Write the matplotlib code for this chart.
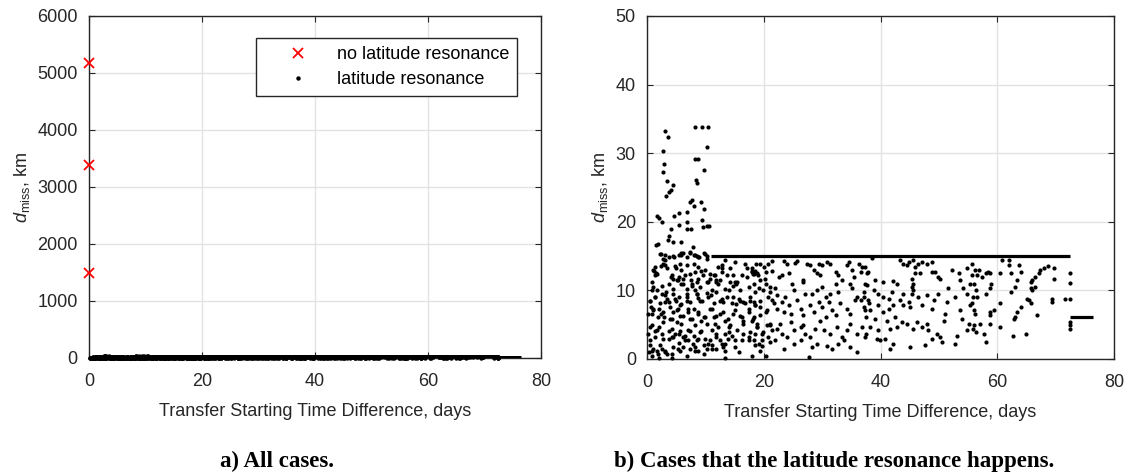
import matplotlib
matplotlib.use('Agg')
import matplotlib.pyplot as plt

plt.rcParams['font.family'] = ['Liberation Sans', 'DejaVu Sans']
plt.rcParams['mathtext.fontset'] = 'custom'
plt.rcParams['mathtext.rm'] = 'Liberation Sans'
plt.rcParams['mathtext.it'] = 'Liberation Sans:italic'

# cases without latitude resonance (all at zero start offset)
nores_t = [0.0, 0.0, 0.0]
nores_d = [5170, 3380, 1490]

# latitude resonance cases, (start offset in days, miss distance in km)
early = [
    (3.0, 33.3), (3.6, 32.3), (8.3, 33.8), (9.4, 33.8), (10.5, 33.8), (2.8, 30.3),
    (10.3, 30.9), (8.3, 29.1), (8.8, 29.1), (2.9, 28.4), (2.7, 27.3), (9.8, 27.5),
    (3.4, 25.9), (3.3, 23.8), (4.4, 25.4), (4.1, 24.6), (3.8, 24.4), (8.4, 26.1),
    (8.5, 25.7), (7.7, 23.2), (8.0, 22.3), (7.4, 22.9), (9.2, 22.9), (9.7, 21.8),
    (1.7, 20.9), (2.0, 20.6), (2.5, 19.9), (4.7, 20.8), (5.5, 21.3), (6.8, 21.5),
    (6.8, 20.0), (6.9, 19.0), (7.5, 19.0), (5.5, 19.5), (4.1, 19.0), (9.5, 20.3),
    (9.6, 19.3), (10.2, 19.4), (10.7, 19.4), (3.7, 18.0), (3.6, 17.4), (4.5, 17.0),
    (5.8, 17.1), (1.6, 16.6), (1.9, 16.8), (7.9, 16.3), (8.0, 15.2), (8.5, 15.0),
    (2.4, 15.3), (3.1, 15.1), (3.1, 14.5), (4.7, 14.9), (5.9, 15.1), (6.2, 15.4),
    (7.4, 15.6), (8.9, 14.9), (9.9, 15.3), (10.2, 15.0),
    (1.2, 12.8), (1.6, 12.5), (1.4, 12.2), (2.4, 13.5), (2.8, 13.9), (5.0, 13.2),
    (4.8, 13.5), (5.6, 13.9), (6.9, 13.7), (8.0, 13.9), (8.8, 13.4), (9.3, 12.9),
    (9.6, 12.2), (4.1, 12.0), (4.5, 11.7), (5.3, 11.5), (6.1, 11.7), (6.1, 11.0),
    (7.4, 12.4), (7.5, 11.5), (7.7, 10.7), (8.5, 11.2), (10.5, 11.2), (10.8, 11.7),
    (11.7, 12.2), (11.9, 11.2), (12.2, 13.4), (12.8, 12.7), (12.5, 11.5), (13.7, 12.2),
    (14.2, 11.2), (15.3, 11.0), (15.1, 11.2), (17.1, 13.2), (18.0, 12.9), (18.3, 12.4),
    (19.0, 12.2),
    (1.1, 10.5), (0.8, 10.0), (1.4, 9.0), (0.5, 8.5), (2.5, 9.5), (3.3, 9.8),
    (3.4, 8.8), (3.1, 8.3), (4.5, 9.5), (5.0, 8.5), (5.5, 9.0), (5.9, 8.0),
    (6.8, 9.5), (6.8, 8.5), (8.5, 9.5), (8.8, 8.9), (9.1, 8.5), (10.2, 9.6),
    (10.9, 9.3), (11.9, 9.8), (12.8, 8.8), (13.1, 8.3), (14.0, 10.0), (14.8, 9.0),
    (15.3, 8.0), (15.9, 8.5), (16.5, 8.3), (17.7, 8.5), (18.5, 7.8),
    (0.6, 7.6), (1.1, 7.3), (0.9, 6.6), (2.0, 7.3), (2.4, 6.6), (2.9, 6.1),
    (4.0, 7.6), (4.4, 6.8), (4.3, 5.9), (5.3, 7.3), (5.6, 6.3), (5.1, 5.4),
    (7.1, 6.8), (7.4, 5.9), (8.0, 7.3), (8.8, 6.6), (9.3, 5.6), (9.9, 6.1),
    (11.1, 7.3), (11.4, 6.1), (11.7, 5.1), (12.5, 6.6), (13.4, 5.6), (14.0, 4.6),
    (14.8, 6.6), (15.9, 6.3), (16.5, 5.6), (17.4, 7.3), (18.3, 6.1), (18.8, 5.1),
    (0.5, 4.6), (1.4, 4.1), (0.2, 3.7), (2.0, 4.6), (2.5, 3.7), (2.8, 2.9),
    (3.7, 4.1), (4.3, 3.2), (4.8, 3.7), (5.6, 4.1), (6.2, 3.2), (6.5, 2.7),
    (7.4, 4.1), (8.0, 3.4), (8.5, 2.7), (9.3, 4.1), (9.9, 2.9), (10.5, 2.2),
    (11.9, 3.7), (12.5, 2.7), (13.4, 2.2), (14.0, 3.9), (14.5, 3.4), (15.1, 2.7),
    (16.5, 3.7), (17.4, 2.7), (18.5, 3.7),
    (0.5, 2.0), (1.1, 1.5), (1.7, 1.2), (2.5, 1.5), (3.1, 1.0), (3.4, 0.7),
    (4.5, 1.7), (5.3, 1.5), (6.2, 1.7), (7.4, 1.5), (8.3, 1.7), (8.8, 1.2),
    (10.2, 1.5), (11.1, 2.0), (11.9, 1.5), (13.1, 1.7), (13.4, 0.2), (0.4, 1.0),
    (0.8, 0.5), (2.0, 0.2), (4.3, 0.2),
]

early_b = [
    (2.2, 15.3), (2.8, 14.6), (3.7, 14.9), (4.5, 15.0), (5.4, 15.1), (5.9, 15.4),
    (6.8, 14.9), (7.4, 15.5), (8.2, 15.1), (8.8, 14.9), (9.7, 15.4), (10.2, 14.6),
    (12.8, 13.7), (12.8, 13.2), (13.4, 14.4), (15.1, 14.2), (16.8, 13.9), (17.9, 13.2),
    (18.5, 12.9), (19.4, 13.9), (20.8, 13.9), (21.4, 12.9),
    (1.1, 13.0), (1.7, 12.4), (1.4, 13.4), (3.1, 13.7), (3.4, 13.2), (4.2, 12.2),
    (5.4, 12.0), (5.9, 13.0), (6.5, 12.2), (8.2, 12.7), (8.8, 11.7), (9.9, 13.0),
    (10.8, 12.4), (11.4, 12.2), (11.9, 11.5), (14.2, 13.2), (14.8, 12.2), (16.2, 12.2),
    (17.1, 12.0), (18.2, 12.4), (19.4, 11.5), (20.2, 11.7),
    (0.8, 11.2), (1.7, 10.0), (2.5, 10.7), (3.7, 11.0), (4.5, 10.2), (5.1, 11.5),
    (5.9, 11.0), (6.8, 10.2), (7.7, 11.0), (8.2, 10.0), (9.1, 10.5), (10.2, 11.2),
    (11.1, 10.0), (12.2, 11.0), (13.4, 10.2), (14.8, 10.7), (15.4, 11.2), (16.0, 10.0),
    (17.4, 10.5), (18.5, 9.8), (19.9, 10.0), (21.1, 10.5),
    (0.5, 8.5), (1.4, 9.0), (2.2, 8.1), (3.1, 9.3), (3.7, 8.3), (4.8, 8.8),
    (5.7, 7.8), (6.8, 9.0), (7.4, 8.3), (8.5, 9.5), (9.4, 8.5), (10.5, 9.0),
    (11.4, 8.1), (12.5, 8.5), (13.7, 9.0), (14.5, 8.1), (15.7, 8.8), (16.8, 8.1),
    (17.7, 9.0), (18.5, 7.8), (19.4, 8.5), (20.8, 9.0),
    (0.2, 6.6), (1.1, 7.1), (1.9, 6.1), (2.8, 6.8), (3.9, 5.9), (5.1, 7.1),
    (6.2, 6.3), (7.1, 7.3), (7.7, 5.9), (8.8, 6.8), (9.7, 6.1), (10.8, 7.3),
    (11.9, 6.3), (13.1, 6.8), (13.9, 5.9), (15.1, 7.1), (16.2, 6.1), (17.4, 6.8),
    (18.2, 5.9), (19.4, 6.4), (20.5, 7.1),
    (0.8, 4.9), (1.7, 4.2), (2.8, 5.4), (4.2, 4.4), (5.4, 3.7), (5.9, 5.1),
    (7.1, 4.2), (8.2, 4.9), (9.1, 3.9), (10.2, 5.1), (11.1, 4.2), (12.2, 4.6),
    (13.4, 3.7), (14.2, 4.9), (15.4, 4.2), (16.5, 5.1), (17.7, 3.9), (18.8, 4.6),
    (19.9, 3.9), (21.1, 4.9),
    (0.5, 2.7), (1.4, 3.2), (2.2, 2.0), (3.7, 2.9), (4.5, 3.2), (5.4, 2.4),
    (6.5, 3.4), (7.1, 2.7), (7.9, 2.2), (8.8, 2.9), (9.7, 2.0), (10.8, 2.7),
    (11.9, 3.2), (12.8, 2.2), (13.9, 2.9), (15.1, 1.7), (16.2, 2.7), (17.4, 3.2),
    (18.5, 2.0), (19.7, 2.7), (20.8, 3.2),
    (0.8, 1.2), (1.9, 0.7), (3.1, 1.2), (4.2, 0.7), (5.7, 1.2), (6.8, 0.5),
    (8.2, 1.2), (9.7, 0.7), (11.1, 1.5), (13.4, 1.2), (15.7, 1.0), (17.9, 0.5),
    (19.4, 1.2),
]

middle = [
    (18.6, 13.9), (20.0, 13.4), (21.4, 14.3), (23.5, 14.3), (23.9, 13.9), (25.4, 14.0),
    (25.7, 14.3), (27.4, 13.9), (28.0, 13.7), (29.4, 13.9), (30.0, 13.7), (30.8, 14.2),
    (31.4, 13.9), (34.3, 13.7), (34.6, 14.2), (36.3, 13.9), (37.4, 13.4),
    (18.0, 12.7), (18.8, 12.5), (20.3, 12.7), (22.6, 12.0), (23.1, 12.2), (24.3, 12.6),
    (26.8, 11.5), (28.6, 13.0), (29.1, 12.5), (29.7, 12.2), (32.3, 12.7), (32.7, 12.2),
    (35.1, 13.0), (35.4, 12.0), (36.6, 12.7), (37.7, 12.5),
    (18.3, 11.0), (19.1, 10.3), (20.3, 11.0), (21.1, 9.8), (22.0, 10.3), (22.3, 9.3),
    (23.7, 9.0), (24.8, 11.0), (25.1, 10.0), (26.8, 11.2), (27.1, 9.5), (28.3, 9.5),
    (29.1, 10.0), (30.0, 10.5), (30.6, 9.0), (31.4, 9.5), (32.3, 11.0), (32.8, 9.8),
    (33.4, 11.5), (34.8, 11.0), (35.1, 10.3), (36.0, 9.0), (37.1, 9.8), (37.7, 10.8),
    (18.3, 8.3), (19.4, 7.6), (20.3, 6.8), (21.4, 8.6), (21.7, 8.1), (22.3, 7.3),
    (23.1, 8.3), (23.4, 6.8), (24.3, 7.8), (24.6, 6.6), (25.7, 8.6), (26.3, 7.3),
    (26.8, 6.4), (28.0, 7.8), (28.6, 6.8), (29.4, 8.3), (30.0, 7.6), (30.6, 6.1),
    (31.1, 8.3), (31.7, 7.1), (32.3, 6.4), (33.1, 8.1), (34.3, 7.3), (34.8, 6.6),
    (35.7, 8.6), (36.6, 8.6), (37.4, 7.1), (38.0, 8.1),
    (18.0, 5.6), (18.8, 4.7), (19.7, 3.7), (20.6, 4.9), (21.1, 5.1), (21.4, 4.2),
    (22.3, 4.4), (22.8, 5.1), (23.1, 3.7), (24.0, 3.2), (24.6, 5.4), (25.1, 4.2),
    (26.3, 4.7), (26.8, 4.9), (27.1, 3.7), (28.0, 3.2), (28.8, 4.4), (29.7, 5.6),
    (30.3, 4.2), (31.4, 3.7), (32.6, 4.7), (33.4, 3.2), (34.3, 4.2), (34.8, 5.1),
    (36.0, 3.7), (36.8, 4.7), (37.4, 3.2),
    (18.3, 2.7), (19.1, 2.2), (19.7, 1.9), (20.3, 0.5), (21.1, 2.5), (22.0, 2.7),
    (23.4, 1.5), (25.1, 2.2), (26.3, 2.7), (27.7, 0.3), (28.3, 1.7), (29.1, 2.2),
    (30.8, 1.9), (31.7, 1.5), (32.8, 2.2), (33.7, 2.7), (34.8, 1.7), (36.0, 1.0),
]

late = [
    (38.5, 14.7), (43.4, 14.4), (43.9, 13.9), (44.8, 14.2), (45.6, 14.4), (46.5, 13.9),
    (47.1, 14.2), (47.9, 13.9), (48.8, 14.2), (44.5, 13.7), (45.9, 13.4),
    (36.8, 13.4), (37.9, 12.7), (45.9, 12.5), (46.8, 12.5), (48.8, 12.7), (49.9, 12.0),
    (52.2, 13.0), (53.4, 12.5), (54.8, 13.2), (56.2, 13.0), (49.4, 12.7), (53.6, 11.5),
    (55.4, 11.0), (50.2, 11.7), (45.4, 11.7), (37.4, 11.0), (39.1, 11.5), (40.5, 11.2),
    (42.2, 11.4), (42.8, 11.0), (45.6, 11.0),
    (38.8, 10.0), (39.6, 9.5), (40.5, 9.0), (41.9, 9.8), (43.9, 9.5), (45.4, 10.5),
    (45.6, 10.0), (45.4, 9.5), (46.5, 9.0), (47.9, 9.3), (49.1, 8.6), (51.6, 10.3),
    (52.8, 9.0), (54.2, 10.3), (54.8, 9.5), (55.9, 9.0), (37.1, 9.0), (37.9, 8.6),
    (41.4, 8.8), (43.4, 8.6), (44.8, 8.3), (49.9, 9.5), (51.4, 8.3),
    (37.1, 7.6), (38.2, 7.1), (39.6, 7.8), (40.5, 6.8), (41.4, 7.3), (42.2, 7.8),
    (43.9, 7.8), (45.1, 7.6), (47.1, 7.8), (48.8, 7.3), (51.1, 6.6), (53.6, 7.1),
    (55.4, 7.8), (56.2, 6.6), (37.6, 6.1), (39.1, 5.9), (41.1, 5.6), (42.5, 6.1),
    (43.6, 5.4), (44.5, 5.1), (46.2, 5.4), (47.9, 5.1), (50.8, 5.6), (53.9, 5.9),
    (55.1, 5.1),
    (38.2, 4.7), (39.6, 4.2), (41.6, 4.4), (42.8, 4.7), (45.6, 4.4), (47.1, 4.7),
    (48.2, 4.2), (49.6, 3.7), (53.1, 3.4), (54.8, 4.2), (55.9, 4.4), (39.4, 2.9),
    (39.9, 2.7), (40.8, 2.9), (42.2, 2.2), (45.1, 1.7), (48.8, 2.9), (50.2, 3.2),
    (50.5, 2.5), (47.6, 2.0), (41.6, 1.5), (52.8, 2.2), (37.6, 3.7),
]

tail = [
    (55.7, 13.9), (56.8, 13.0), (58.0, 12.5), (58.5, 12.7), (58.8, 12.5), (60.8, 14.5),
    (62.0, 14.5), (62.0, 13.7), (63.7, 13.7), (64.0, 12.7), (62.3, 12.6), (60.5, 12.5),
    (55.7, 12.2), (56.5, 12.2), (57.4, 12.0), (63.4, 11.5), (63.1, 10.5), (65.7, 11.2),
    (66.0, 11.5), (66.5, 12.0), (67.1, 12.5), (67.4, 13.0), (68.0, 13.3), (68.7, 13.6),
    (69.7, 13.2), (69.7, 11.7), (65.7, 10.3), (66.5, 10.5), (66.0, 10.0), (65.1, 8.8),
    (65.4, 8.6), (65.7, 8.1), (64.0, 7.6), (63.4, 6.8), (63.1, 6.1), (62.8, 5.9),
    (62.3, 9.8), (59.0, 11.0), (58.8, 10.3), (58.0, 9.5), (56.0, 11.0), (56.3, 10.0),
    (56.5, 9.0), (55.7, 8.1), (56.0, 7.1), (59.4, 7.1), (58.8, 6.8), (58.7, 6.4),
    (60.4, 8.1), (66.8, 6.4), (69.4, 8.8), (69.4, 8.3), (71.6, 8.7), (56.0, 4.9),
    (57.1, 5.1), (58.8, 5.1), (60.5, 4.6), (56.3, 3.9), (57.7, 3.7), (58.1, 2.5),
    (62.7, 3.4), (65.0, 3.7),
    (72.4, 12.6), (72.4, 11.1), (72.4, 8.8), (72.4, 5.4), (72.4, 4.9), (72.4, 4.4),
]

# runs of consecutive cases that sit on the same miss distance
run_start = [11.0, 72.5]
run_end = [72.4, 76.4]
run_level = [15.0, 6.1]

points = early + early_b + middle + late + tail
res_t = [p[0] for p in points]
res_d = [p[1] for p in points]

axis_col = '#262626'
grid_col = '#e3e3e3'


def style_axes(ax, xlim, ylim, yticks):
    ax.set_xlim(*xlim)
    ax.set_ylim(*ylim)
    ax.set_xticks([0, 20, 40, 60, 80])
    ax.set_yticks(yticks)
    ax.grid(True, color=grid_col, linewidth=1.0)
    ax.set_axisbelow(True)
    for s in ax.spines.values():
        s.set_color(axis_col)
        s.set_linewidth(1.0)
    ax.tick_params(direction='in', length=4, width=0.8, colors=axis_col,
                   labelsize=13, top=True, right=True)
    ax.tick_params(axis='x', pad=11)
    ax.tick_params(axis='y', pad=8)
    ax.set_xlabel('Transfer Starting Time Difference, days', fontsize=13,
                  color=axis_col, labelpad=9)
    ax.set_ylabel(r'$d_{\mathrm{miss}}$, km', fontsize=13, color=axis_col,
                  labelpad=4)


fig = plt.figure(figsize=(11.29, 4.76), dpi=100)
ax1 = fig.add_axes([0.0788, 0.2479, 0.4004, 0.7185])
ax2 = fig.add_axes([0.5731, 0.2458, 0.4136, 0.7206])

# a) everything
ax1.plot(nores_t, nores_d, 'x', color='red', ms=7, mew=1.3, clip_on=False,
         label='no latitude resonance', zorder=4)
ax1.plot(res_t, res_d, 'o', color='black', ms=3.2, mew=0, clip_on=False,
         label='latitude resonance', zorder=3)
for x0, x1, lvl in zip(run_start, run_end, run_level):
    ax1.plot([x0, x1], [lvl, lvl], color='black', lw=3.6, solid_capstyle='butt',
             zorder=3)
style_axes(ax1, (0, 80), (0, 6000), range(0, 6001, 1000))
leg = ax1.legend(loc='upper right', bbox_to_anchor=(0.947, 0.936), fontsize=13,
                 handlelength=3.7, handletextpad=0.3, borderpad=0.45,
                 labelspacing=0.45, fancybox=False, framealpha=1,
                 edgecolor=axis_col, borderaxespad=0, markerscale=1.0)
leg.get_frame().set_linewidth(1.0)

# b) resonance cases only
ax2.plot(res_t, res_d, 'o', color='black', ms=3.0, mew=0, clip_on=False, zorder=3)
for x0, x1, lvl in zip(run_start, run_end, run_level):
    ax2.plot([x0, x1], [lvl, lvl], color='black', lw=2.3, solid_capstyle='butt',
             zorder=3)
style_axes(ax2, (0, 80), (0, 50), range(0, 51, 10))

fig.text(277 / 1129, 1 - 461 / 476, 'a) All cases.', ha='center', va='center',
         family='Liberation Serif', weight='bold', fontsize=16.5)
fig.text(834 / 1129, 1 - 461 / 476, 'b) Cases that the latitude resonance happens.',
         ha='center', va='center', family='Liberation Serif', weight='bold',
         fontsize=16.5)

fig.savefig('out.png', dpi=100, facecolor='white')
